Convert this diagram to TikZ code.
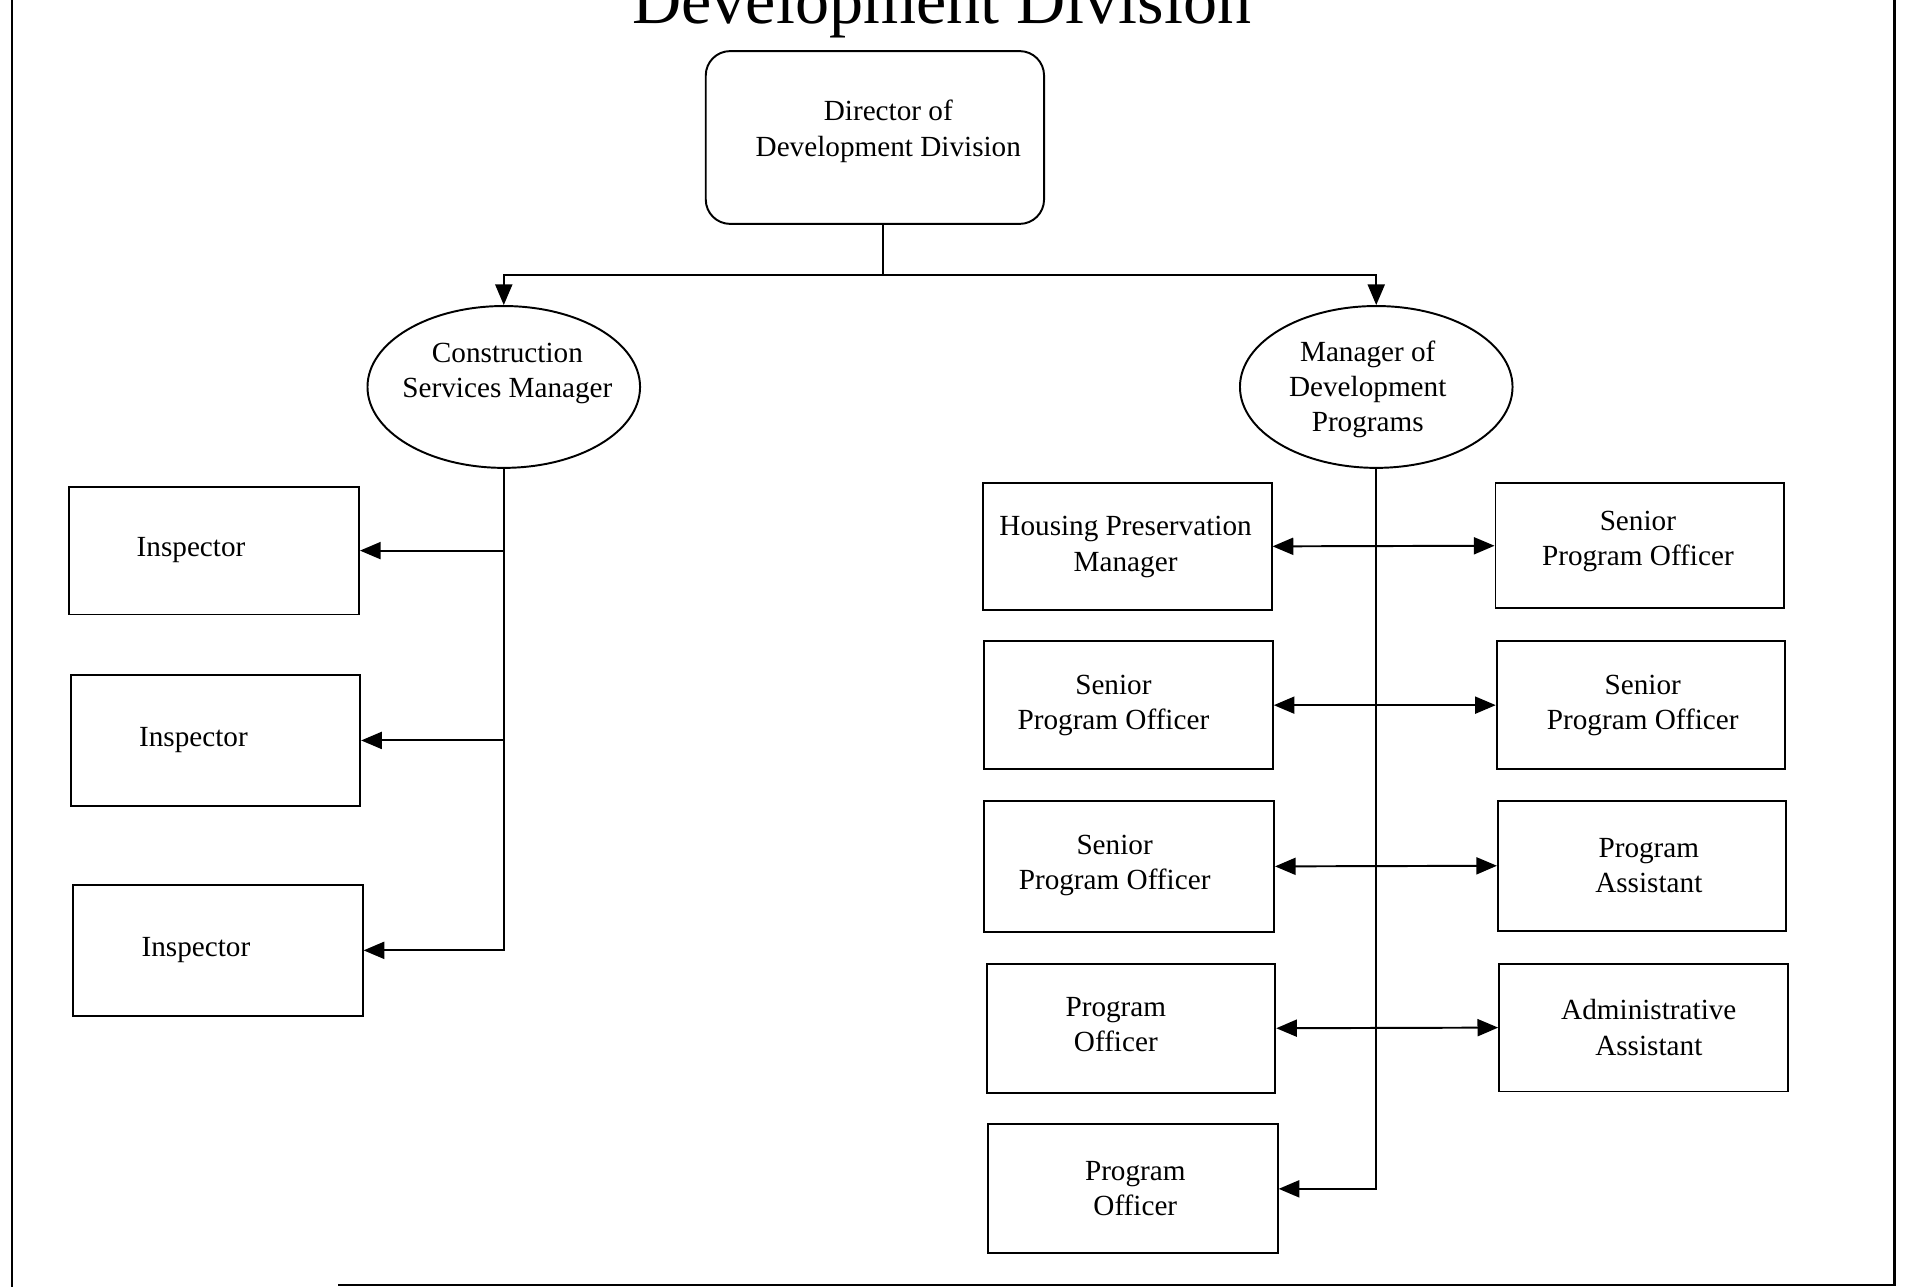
\documentclass[tikz,border=0pt]{standalone}
\usepackage{fontspec}
\setmainfont{Liberation Serif}
\usetikzlibrary{shapes.geometric,arrows.meta}
\begin{document}
\begin{tikzpicture}[x=0.5pt,y=-0.5pt,
  line width=0.8pt,
  box/.style={draw,rectangle,inner sep=0pt},
  oval/.style={draw,ellipse,inner sep=0pt,minimum width=112pt,minimum height=66.5pt},
  txt/.style={font=\fontsize{12}{14.5}\selectfont,align=center,inner sep=0pt},
  arr/.style={-{Triangle[length=8.5pt,width=7pt]}},
  dbl/.style={{Triangle[length=8.5pt,width=7pt]}-{Triangle[length=8.5pt,width=7pt]}}]
\useasboundingbox (0,0) rectangle (1568,1058);
\clip (0,0) rectangle (1568,1058);

% page frame
\draw[line width=1pt] (10,0) -- (10,1058);
\draw[line width=1pt] (1557,0) -- (1557,1056) -- (278,1056);

% heading
\node[anchor=base,inner sep=0pt,font=\fontsize{28}{32}\selectfont] (title) at (774,19) {Development Division};

% director
\node[box,rounded corners=10pt,minimum width=139pt,minimum height=71pt] (dir) at (719,113) {};
\node[txt] (dirt) at (730,108) {Director of\\Development Division};

% managers
\node[oval] (csm) at (414,318) {};
\node[txt] (csmt) at (417,307) {Construction\\Services Manager};
\node[oval] (mdp) at (1131,318) {};
\node[txt] (mdpt) at (1124,320) {Manager of\\Development\\Programs};

% inspectors
\node[box,minimum width=119pt,minimum height=52.5pt] (ins1) at (176,452.5) {};
\node[box,minimum width=119pt,minimum height=53.5pt] (ins2) at (177,608.5) {};
\node[box,minimum width=119pt,minimum height=54pt] (ins3) at (179,781) {};
\node[txt] at (157,452) {Inspector};
\node[txt] at (159,608) {Inspector};
\node[txt] at (161,781) {Inspector};

% program staff, inner column
\node[box,minimum width=118.5pt,minimum height=52pt] (hpm) at (926.5,449) {};
\node[box,minimum width=118.5pt,minimum height=52.5pt] (spo1) at (927.5,579.5) {};
\node[box,minimum width=119pt,minimum height=54pt] (spo2) at (928,712) {};
\node[box,minimum width=118.5pt,minimum height=53pt] (po1) at (929.5,845) {};
\node[box,minimum width=119pt,minimum height=53pt] (po2) at (931,977) {};
\node[txt] at (925,449.5) {Housing Preservation\\Manager};
\node[txt] at (915,579.5) {Senior\\Program Officer};
\node[txt] at (916,711.5) {Senior\\Program Officer};
\node[txt] at (917,842) {Program\\Officer};
\node[txt] at (933,977) {Program\\Officer};

% program staff, outer column
\node[box,minimum width=118.5pt,minimum height=51.5pt] (spo3) at (1347.5,448.5) {};
\node[box,minimum width=118.5pt,minimum height=52.5pt] (spo4) at (1348.5,579.5) {};
\node[box,minimum width=118.5pt,minimum height=53.5pt] (pa) at (1349.5,711.5) {};
\node[box,minimum width=118.5pt,minimum height=52.5pt] (aa) at (1350.5,844.5) {};
\node[txt] at (1346,445) {Senior\\Program Officer};
\node[txt] at (1350,579.5) {Senior\\Program Officer};
\node[txt] at (1355,711.5) {Program\\Assistant};
\node[txt] at (1355,844.5) {Administrative\\Assistant};

% director to managers
\coordinate (jn) at (726,226);
\draw (dir.south -| jn) -- (jn);
\draw[arr] (jn) -| (csm.north);
\draw[arr] (jn) -| (mdp.north);

% construction branch
\draw[arr] (csm.south) |- (ins3.east);
\draw[arr] (csm.south |- ins1.east) -- (ins1.east);
\draw[arr] (csm.south |- ins2.east) -- (ins2.east);

% programs branch
\draw[arr] (mdp.south) |- (po2.east);
\draw[dbl] (hpm.east) -- (spo3.west);
\draw[dbl] (spo1.east) -- (spo4.west);
\draw[dbl] (spo2.east) -- (pa.west);
\draw[dbl] (po1.east) -- (aa.west);
\end{tikzpicture}
\end{document}
